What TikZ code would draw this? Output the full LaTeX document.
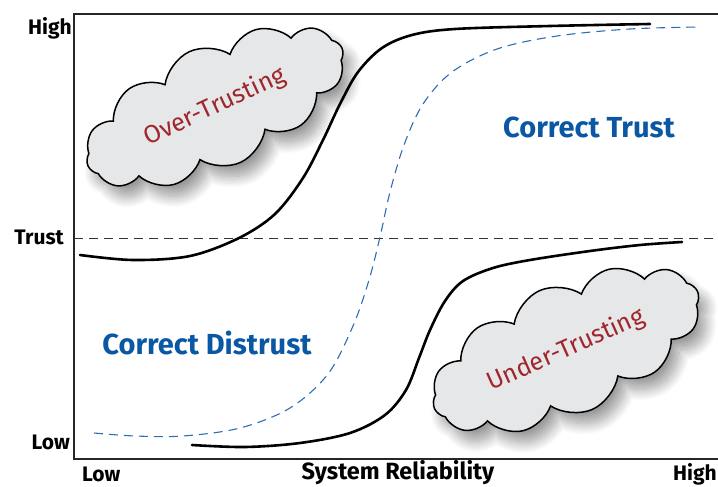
\documentclass[tikz,border=0pt]{standalone}
\usepackage{fontspec}
\setmainfont{Fira Sans}
\usetikzlibrary{shapes.symbols,shadows.blur}
\definecolor{tblue}{HTML}{0A57A4}
\definecolor{dblue}{HTML}{2E6DB4}
\definecolor{cred}{HTML}{A0262C}
\definecolor{cgrey}{HTML}{E6E7E8}
\tikzset{
  axis/.style={line width=1.2pt, draw=black!85},
  curve/.style={line width=2.6pt, line cap=round},
  bluedash/.style={line width=1.1pt, draw=dblue, dash pattern=on 9pt off 6pt},
  trustline/.style={line width=1pt, draw=black!80, dash pattern=on 9pt off 6pt},
  axlabel/.style={font=\bfseries\fontsize{21}{24}\selectfont, inner sep=0pt},
  zone/.style={font=\bfseries\fontsize{29}{32}\selectfont, text=tblue, inner sep=0pt},
  cloudbox/.style={cloud, cloud puffs=12, cloud puff arc=115, cloud ignores aspect, draw=black, line width=1.5pt,
    fill=cgrey, blur shadow={shadow xshift=8pt, shadow yshift=-11pt, shadow blur steps=16, shadow blur radius=11pt},
    font=\fontsize{25}{28}\selectfont, text=cred, inner sep=0pt}
}
\begin{document}
\begin{tikzpicture}[x=1pt,y=-1pt]
\useasboundingbox (0,0) rectangle (718,487);
% axes
\coordinate (tl) at (74,14);
\coordinate (tr) at (718,14);
\coordinate (bl) at (74,459);
\coordinate (br) at (718,459);
\coordinate (t0) at (74,238);
\coordinate (t1) at (718,238);
\draw[axis] (tr) -- (tl) -- (bl) -- (br);
\draw[trustline] (t0) -- (t1);
% labels
\node[axlabel, anchor=east] (yhigh) at (72,28) {High};
\node[axlabel, anchor=east] (ytrust) at (64,237) {Trust};
\node[axlabel, anchor=east] (ylow) at (70,442) {Low};
\node[axlabel, anchor=west] (xlow) at (82,474) {Low};
\node[axlabel, font=\bfseries\fontsize{23.5}{26}\selectfont] (xtitle) at (398,473) {System Reliability};
\node[axlabel, anchor=east] (xhigh) at (717,474) {High};
% clouds
\node[cloudbox, minimum width=280pt, minimum height=122pt, rotate=25] (over) at (215,107) {Over-Trusting};
\node[cloudbox, minimum width=288pt, minimum height=130pt, rotate=24] (under) at (566,350) {Under-Trusting};
% blue dashed curve
\draw[bluedash] plot[smooth, tension=0.55] coordinates {(94,433) (135,436) (183,436) (240,428) (290,408) (328,374) (353,326) (369,280) (380,237) (390,192) (404,145) (423,104) (452,72) (497,49) (557,36) (630,29) (700,27)};
% black upper curve
\draw[curve] plot[smooth, tension=0.55] coordinates {(80,255) (133,260) (190,256) (239,238) (275,214) (303,178) (323,140) (340,104) (358,72) (382,48) (412,35) (455,29) (550,26) (650,24)};
% black lower curve
\draw[curve] plot[smooth, tension=0.55] coordinates {(192,445) (245,447) (300,443) (350,433) (385,415) (406,390) (419,358) (430,330) (445,301) (463,281) (493,268) (530,260) (590,251) (640,245) (682,242)};
% zone labels
\node[zone] (ct) at (589,127) {Correct Trust};
\node[zone] (cd) at (207,343) {Correct Distrust};
\end{tikzpicture}
\end{document}
